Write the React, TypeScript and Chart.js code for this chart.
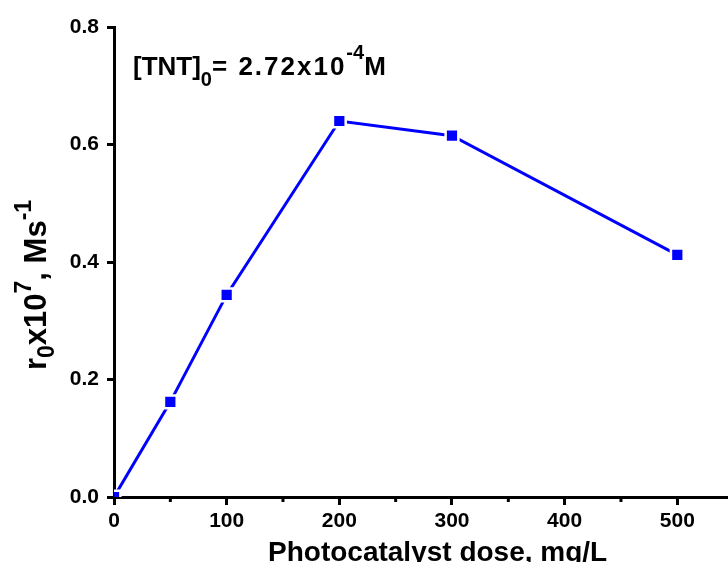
import React, { useEffect, useRef } from "react";
import { Chart, registerables } from "chart.js";
Chart.register(...registerables);

const doses = [0, 50, 100, 200, 300, 500];
const rates = [0.0, 0.162, 0.344, 0.64, 0.615, 0.412];
const xTicks = [0, 100, 200, 300, 400, 500];
const xMinorTicks = [50, 150, 250, 350, 450];
const yTicks = [0.0, 0.2, 0.4, 0.6, 0.8];
const xRange = [0, 545];
const yRange = [0, 0.8];

const FONT = "'Liberation Sans', Arial, sans-serif";

type Part = { t: string; size: number; dy: number; ls?: number };

function drawRich(ctx: CanvasRenderingContext2D, parts: Part[], x: number, y: number) {
  let cx = x;
  for (const p of parts) {
    ctx.font = `bold ${p.size}px ${FONT}`;
    (ctx as any).letterSpacing = `${p.ls || 0}px`;
    ctx.fillText(p.t, cx, y + p.dy);
    cx += ctx.measureText(p.t).width;
  }
  (ctx as any).letterSpacing = "0px";
}

const textPlugin = {
  id: "textPlugin",
  afterDraw(chart: any) {
    const ctx: CanvasRenderingContext2D = chart.ctx;
    const { left, bottom } = chart.chartArea;
    const xs = chart.scales.x;
    ctx.save();
    // minor ticks
    ctx.strokeStyle = "#000";
    ctx.lineWidth = 3;
    for (const v of xMinorTicks) {
      const px = xs.getPixelForValue(v);
      ctx.beginPath();
      ctx.moveTo(px, bottom);
      ctx.lineTo(px, bottom + 5);
      ctx.stroke();
    }
    ctx.fillStyle = "#000";
    ctx.textBaseline = "alphabetic";
    ctx.textAlign = "left";
    // annotation
    drawRich(
      ctx,
      [
        { t: "[TNT]", size: 26, dy: 0 },
        { t: "0", size: 20, dy: 11 },
        { t: "= 2.72x10", size: 26, dy: 0, ls: 2 },
        { t: "-4", size: 20, dy: -16 },
        { t: "M", size: 26, dy: 0 },
      ],
      left + 19,
      75
    );
    // x title
    ctx.font = `bold 28px ${FONT}`;
    ctx.textAlign = "left";
    ctx.fillText("Photocatalyst dose, mg/L", left + 154, 561);
    // y title
    ctx.translate(46, 370);
    ctx.rotate(-Math.PI / 2);
    drawRich(
      ctx,
      [
        { t: "r", size: 31, dy: 0 },
        { t: "0", size: 23, dy: 8 },
        { t: "x10", size: 31, dy: 0 },
        { t: "7", size: 23, dy: -15 },
        { t: ", Ms", size: 31, dy: 0 },
        { t: "-1", size: 23, dy: -15 },
      ],
      0,
      0
    );
    ctx.restore();
  },
};

export default function App() {
  const ref = useRef<HTMLCanvasElement | null>(null);
  useEffect(() => {
    if (!ref.current) return;
    const chart = new Chart(ref.current, {
      type: "line",
      data: {
        labels: doses,
        datasets: [
          {
            data: doses.map((d, i) => ({ x: d, y: rates[i] })),
            borderColor: "#0000ff",
            borderWidth: 3,
            backgroundColor: "#0000ff",
            pointStyle: "rect",
            pointRadius: 9,
            pointBackgroundColor: "#0000ff",
            pointBorderColor: "#ffffff",
            pointBorderWidth: 2.5,
            tension: 0,
          },
        ],
      },
      options: {
        animation: false,
        responsive: false,
        events: [],
        layout: { autoPadding: false, padding: { top: 27, left: 0, right: 0, bottom: 0 } },
        plugins: { legend: { display: false }, tooltip: { enabled: false } },
        scales: {
          x: {
            type: "linear",
            min: xRange[0],
            max: xRange[1],
            afterBuildTicks: (s: any) => {
              s.ticks = xTicks.map((v) => ({ value: v }));
            },
            afterFit: (s: any) => {
              s.height = 65;
              s.paddingLeft = 0;
              s.paddingRight = 0;
            },
            grid: {
              drawOnChartArea: false,
              drawTicks: true,
              tickLength: 8,
              tickWidth: 3,
              tickColor: "#000",
            },
            border: { display: true, width: 3, color: "#000" },
            ticks: {
              color: "#000",
              padding: 4,
              maxRotation: 0,
              font: { family: FONT, size: 21, weight: "bold" },
              callback: (v: any) => String(v),
            },
          },
          y: {
            type: "linear",
            min: yRange[0],
            max: yRange[1],
            afterBuildTicks: (s: any) => {
              s.ticks = yTicks.map((v) => ({ value: v }));
            },
            afterFit: (s: any) => {
              s.width = 114;
              s.paddingTop = 0;
              s.paddingBottom = 0;
            },
            grid: {
              drawOnChartArea: false,
              drawTicks: true,
              tickLength: 7,
              tickWidth: 3,
              tickColor: "#000",
            },
            border: { display: true, width: 3, color: "#000" },
            ticks: {
              color: "#000",
              padding: 8,
              font: { family: FONT, size: 21, weight: "bold" },
              callback: (v: any) => Number(v).toFixed(1),
            },
          },
        },
      },
      plugins: [textPlugin],
    } as any);
    return () => chart.destroy();
  }, []);
  return (
    <canvas
      ref={ref}
      width={728}
      height={562}
      style={{ position: "absolute", left: 0, top: 0, width: 728, height: 562 }}
    />
  );
}
